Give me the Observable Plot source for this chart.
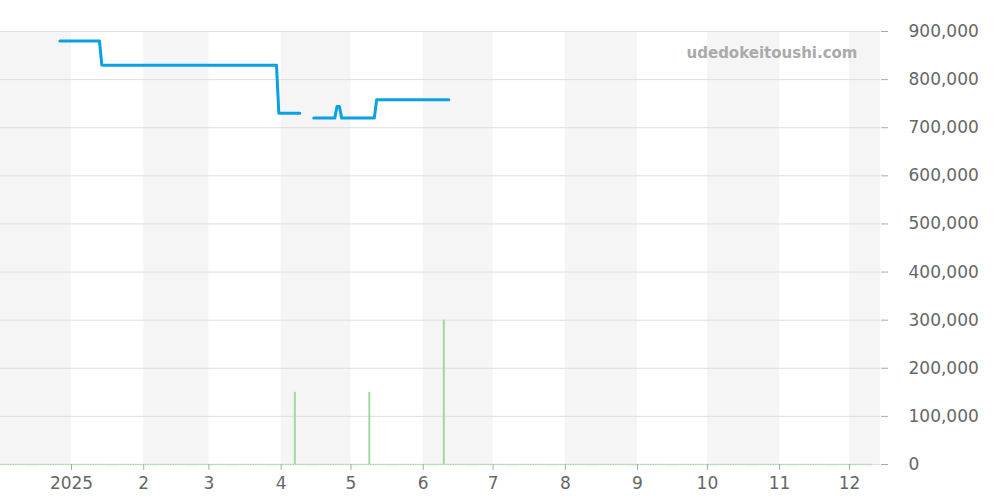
<!DOCTYPE html>
<html>
<head>
<meta charset="utf-8">
<script src="https://cdn.jsdelivr.net/npm/d3@7"></script>
<script src="https://cdn.jsdelivr.net/npm/@observablehq/plot@0.6"></script>
<style>
  html, body { margin: 0; padding: 0; background: #fff; }
  #chart svg { display: block; }
</style>
</head>
<body>
<div id="chart"></div>
<script>
// Price series (null = gap)
const priceDates = ["2024-12-27","2025-01-13","2025-01-14","2025-03-30","2025-03-31","2025-04-09","2025-04-12","2025-04-15","2025-04-24","2025-04-25","2025-04-26","2025-04-27","2025-05-11","2025-05-12","2025-06-12"];
const priceValues = [880000, 880000, 830000, 830000, 730000, 730000, null, 720000, 720000, 744000, 744000, 720000, 720000, 758000, 758000];

// Volume bars
const volumeDates = ["2025-04-06","2025-05-08","2025-06-09"];
const volumeValues = [150000, 150000, 300000];

// Shaded months
const shadedMonths = ["2024-12-01","2025-02-01","2025-04-01","2025-06-01","2025-08-01","2025-10-01","2025-12-01"];

// Axis ticks
const xTicks = ["2025-01-01","2025-02-01","2025-03-01","2025-04-01","2025-05-01","2025-06-01","2025-07-01","2025-08-01","2025-09-01","2025-10-01","2025-11-01","2025-12-01"];
const yTicks = [0,100000,200000,300000,400000,500000,600000,700000,800000,900000];
const xDomain = ["2024-12-01T12:00:00Z","2025-12-14T08:00:00Z"];
const baselineEnd = "2025-12-11";
const watermark = "udedokeitoushi.com";

const parse = s => new Date(s.length > 10 ? s : s + "T00:00:00Z");
const domain = xDomain.map(parse);
const price = priceDates.map((d, i) => ({date: parse(d), value: priceValues[i]}));
const volume = volumeDates.map((d, i) => ({date: parse(d), value: volumeValues[i]}));
const bands = shadedMonths.map(d => {
  const s = parse(d);
  const e = d3.utcMonth.offset(s, 1);
  return {x1: s < domain[0] ? domain[0] : s, x2: e > domain[1] ? domain[1] : e};
});

const chart = Plot.plot({
  width: 1000,
  height: 500,
  marginLeft: 0,
  marginRight: 120,
  marginTop: 31,
  marginBottom: 36,
  style: {fontFamily: "DejaVu Sans, sans-serif", fontSize: "17px", color: "#666", background: "#fff"},
  x: {type: "utc", domain: domain, label: null},
  y: {domain: [0, 900000], label: null},
  marks: [
    Plot.rect(bands, {x1: "x1", x2: "x2", fill: "#f5f5f5"}),
    Plot.gridY(yTicks, {stroke: "#dedede", strokeOpacity: 1}),
    Plot.ruleY([0], {x1: domain[0], x2: parse(baselineEnd), stroke: "#a8dcab", strokeDasharray: "1.5,1", strokeWidth: 1.5}),
    Plot.ruleX(volume, {x: "date", y1: 0, y2: "value", stroke: "#9fd8a3", strokeWidth: 2, dx: 2}),
    Plot.line(price, {x: "date", y: "value", stroke: "#0aa0e6", strokeWidth: 3, curve: "linear"}),
    Plot.axisY(yTicks, {anchor: "right", label: null, tickFormat: d3.format(","), tickSize: 7, tickPadding: 21, stroke: "#aaa", fill: "#666", fontSize: 17, textAnchor: "start"}),
    Plot.axisX(xTicks.map(parse), {anchor: "bottom", label: null, tickSize: 6, tickPadding: 6, stroke: "#aaa", fill: "#666", fontSize: 17,
      tickFormat: d => d.getUTCMonth() === 0 ? String(d.getUTCFullYear()) : String(d.getUTCMonth() + 1)}),
    Plot.text([watermark], {frameAnchor: "top-right", dx: -23, dy: 22, lineAnchor: "middle", textAnchor: "end", fill: "#aaa", fontWeight: "bold", fontSize: 15})
  ]
});
document.getElementById("chart").appendChild(chart);
</script>
</body>
</html>
